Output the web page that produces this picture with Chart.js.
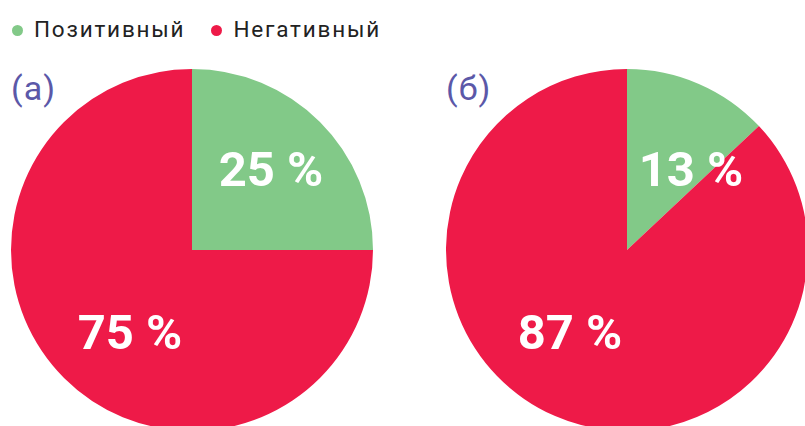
<!DOCTYPE html>
<html>
<head>
<meta charset="utf-8">
<script src="https://cdn.jsdelivr.net/npm/chart.js@4"></script>
<style>
  body { margin: 0; width: 805px; height: 426px; overflow: hidden; background: #fff; font-family: Roboto, sans-serif; position: relative; }
  .legenda { position: absolute; top: 17px; left: 12px; font-size: 22.5px; line-height: 25px; letter-spacing: 1.8px; color: #222; white-space: nowrap; }
  .legenda span.item { display: inline-block; margin-right: 26px; }
  .legenda i { display: inline-block; width: 11px; height: 11px; border-radius: 50%; margin-right: 11px; vertical-align: 1px; }
  .painel { position: absolute; top: 69px; }
  .rotulo { position: absolute; top: 68px; font-size: 34px; letter-spacing: 1px; color: #5b58a8; }
</style>
</head>
<body>
<div class="legenda" id="legenda"></div>
<div class="rotulo" style="left: 11px;">(а)</div>
<div class="rotulo" style="left: 446px;">(б)</div>
<div class="painel" style="left: 11px;"><canvas id="pizzaA" width="362" height="362"></canvas></div>
<div class="painel" style="left: 446px;"><canvas id="pizzaB" width="362" height="362"></canvas></div>
<script>
const categorias = ["Позитивный", "Негативный"];
const cores = ["#82c988", "#ee1a48"];
const valoresA = [25, 75];
const valoresB = [13, 87];

// deslocamento dos rótulos em relação ao centro da pizza
const deslocA = [[79, -81.5], [-62, 82]];
const deslocB = [[64, -81.5], [-57, 82]];

// legenda em html
const legenda = document.getElementById("legenda");
for (let i = 0; i < categorias.length; i++) {
  legenda.innerHTML += `<span class="item"><i style="background:${cores[i]}"></i>${categorias[i]}</span>`;
}

const rotulosPercent = {
  id: "rotulosPercent",
  afterDatasetsDraw(chart, args, opts) {
    const ctx = chart.ctx;
    const meta = chart.getDatasetMeta(0);
    const dados = chart.data.datasets[0].data;
    ctx.save();
    ctx.fillStyle = "#fff";
    ctx.font = "bold 49px Roboto";
    ctx.textAlign = "center";
    ctx.textBaseline = "alphabetic";
    for (let i = 0; i < meta.data.length; i++) {
      const arco = meta.data[i];
      // baseline = centro do texto + metade da altura das maiúsculas
      ctx.fillText(`${dados[i]} %`, arco.x + opts.desloc[i][0], arco.y + opts.desloc[i][1] + 17.4);
    }
    ctx.restore();
  },
};

function criarPizza(id, valores, desloc) {
  return new Chart(document.getElementById(id), {
    type: "pie",
    data: {
      labels: categorias,
      datasets: [{ data: valores, backgroundColor: cores, borderWidth: 0 }],
    },
    options: {
      responsive: false,
      animation: false,
      layout: { padding: 0 },
      plugins: {
        legend: { display: false },
        tooltip: { enabled: false },
        rotulosPercent: { desloc: desloc },
      },
    },
    plugins: [rotulosPercent],
  });
}

criarPizza("pizzaA", valoresA, deslocA);
criarPizza("pizzaB", valoresB, deslocB);
</script>
</body>
</html>
